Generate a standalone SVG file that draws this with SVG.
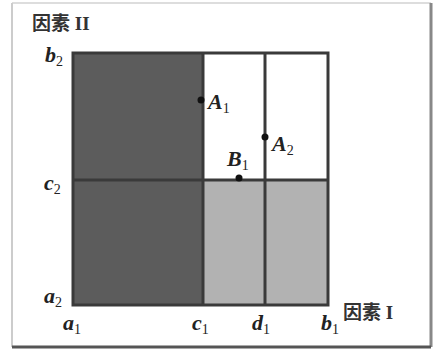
<svg xmlns="http://www.w3.org/2000/svg" width="434" height="350" viewBox="0 0 434 350">
<style>
.v{font-family:"Liberation Serif",serif;font-style:italic;font-weight:bold;font-size:22px;fill:#222}
.s{font-family:"Liberation Serif",serif;font-style:normal;font-weight:normal;font-size:14px;fill:#222}
.cj{font-family:"Liberation Serif","Noto Sans CJK SC",serif;font-size:19px;fill:#333;font-weight:bold}
.ln{stroke:#3a3a3a;stroke-width:3;fill:none}
</style>
<rect x="0" y="0" width="434" height="350" fill="#fff"/>
<g id="frame">
<line x1="12" y1="3" x2="431" y2="3" stroke="#ddd" stroke-width="2"/>
<line x1="12" y1="3" x2="12" y2="347" stroke="#ccc" stroke-width="2"/>
<line x1="431" y1="3" x2="431" y2="347" stroke="#888" stroke-width="3"/>
<line x1="12" y1="347" x2="431" y2="347" stroke="#555" stroke-width="3"/>
</g>
<g id="regions">
<rect x="73" y="53" width="130" height="252" fill="#5c5c5c"/>
<rect x="203" y="180" width="125" height="125" fill="#b2b2b2"/>
</g>
<g id="connectors">
<rect class="ln" x="73" y="53" width="255" height="252"/>
<line class="ln" x1="203" y1="53" x2="203" y2="305"/>
<line class="ln" x1="265" y1="53" x2="265" y2="305"/>
<line class="ln" x1="73" y1="180" x2="328" y2="180"/>
</g>
<g id="points" fill="#111">
<circle cx="201" cy="100" r="3.5"/>
<circle cx="265" cy="137" r="3.5"/>
<circle cx="239" cy="178" r="3.5"/>
</g>
<g id="labels">
<text class="cj" x="32" y="30">因素 II</text>
<text class="v" x="45" y="62">b<tspan class="s" dy="4">2</tspan></text>
<text class="v" x="44" y="190">c<tspan class="s" dy="4">2</tspan></text>
<text class="v" x="44" y="303">a<tspan class="s" dy="4">2</tspan></text>
<text class="v" x="63" y="330">a<tspan class="s" dy="4">1</tspan></text>
<text class="v" x="192" y="330">c<tspan class="s" dy="4">1</tspan></text>
<text class="v" x="252" y="330">d<tspan class="s" dy="4">1</tspan></text>
<text class="v" x="321" y="330">b<tspan class="s" dy="4">1</tspan></text>
<text class="cj" x="343" y="319">因素 I</text>
<text class="v" x="208" y="109">A<tspan class="s" dy="4">1</tspan></text>
<text class="v" x="272" y="151">A<tspan class="s" dy="4">2</tspan></text>
<text class="v" x="227" y="166">B<tspan class="s" dy="4">1</tspan></text>
</g>
</svg>
